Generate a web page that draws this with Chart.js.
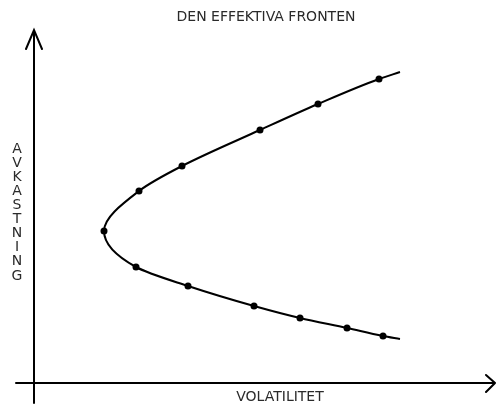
<!DOCTYPE html>
<html>
<head>
<meta charset="utf-8">
<script src="https://cdn.jsdelivr.net/npm/chart.js@4"></script>
<style>
  html, body { margin: 0; padding: 0; background: #fff; }
  #wrap { width: 496px; height: 405px; }
</style>
</head>
<body>
<div id="wrap"><canvas id="frontier"></canvas></div>
<script>
// efficient frontier (top branch -> vertex -> bottom branch)
const volatility = [18.3, 17.25, 14.2, 11.3, 7.4, 5.25, 3.5, 5.1, 7.7, 11.0, 13.3, 15.65, 17.45, 18.3];
const returns    = [15.55, 15.2, 13.95, 12.65, 10.85, 9.6, 7.6, 5.8, 4.85, 3.85, 3.25, 2.75, 2.35, 2.2];

const titleText = 'DEN EFFEKTIVA FRONTEN';
const xLabel = 'VOLATILITET';
const yLabel = 'AVKASTNING';

// axes with arrow heads + texts
const axesPlugin = {
    id: 'axesPlugin',
    afterDraw(chart) {
        const ctx = chart.ctx;
        const x = chart.scales.x, y = chart.scales.y;
        const ox = x.getPixelForValue(0);
        const oy = y.getPixelForValue(0);
        ctx.save();
        ctx.strokeStyle = '#000';
        ctx.lineWidth = 2;
        ctx.lineCap = 'round';
        ctx.beginPath();
        // y axis
        ctx.moveTo(ox, y.getPixelForValue(-1));
        ctx.lineTo(ox, y.getPixelForValue(17.65));
        // arrow up
        ctx.moveTo(ox - 8, y.getPixelForValue(16.7));
        ctx.lineTo(ox, y.getPixelForValue(17.65));
        ctx.lineTo(ox + 8, y.getPixelForValue(16.7));
        // x axis
        ctx.moveTo(x.getPixelForValue(-0.9), oy);
        ctx.lineTo(x.getPixelForValue(23.05), oy);
        // arrow right
        ctx.moveTo(x.getPixelForValue(22.6), oy - 8);
        ctx.lineTo(x.getPixelForValue(23.05), oy);
        ctx.lineTo(x.getPixelForValue(22.6), oy + 9);
        ctx.stroke();

        ctx.fillStyle = '#2a2a2a';
        ctx.font = '14px "DejaVu Sans"';
        ctx.textAlign = 'center';
        ctx.textBaseline = 'middle';
        ctx.fillText(titleText, 266, 17);
        ctx.fillText(xLabel, 280, 397);
        // vertical stacked letters
        yLabel.split('').forEach(function (ch, i) {
            ctx.fillText(ch, 17, 149 + i * 14.1);
        });
        ctx.restore();
    }
};

const ctx = document.getElementById('frontier');
const last = volatility.length - 1;

new Chart(ctx, {
    type: 'scatter',
    data: {
        datasets: [{
            data: volatility.map((v, i) => ({ x: v, y: returns[i] })),
            showLine: true,
            cubicInterpolationMode: 'monotone',
            borderColor: '#000',
            borderWidth: 2,
            backgroundColor: '#000',
            pointRadius: c => (c.dataIndex === 0 || c.dataIndex === last) ? 0 : 3.5,
            pointBorderWidth: 0
        }]
    },
    options: {
        indexAxis: 'y',
        responsive: true,
        maintainAspectRatio: false,
        animation: false,
        layout: { padding: 0 },
        plugins: {
            legend: { display: false },
            tooltip: { enabled: false }
        },
        scales: {
            x: { type: 'linear', display: false, min: -1.7, max: 23.1 },
            y: { type: 'linear', display: false, min: -1.1, max: 19.15 }
        }
    },
    plugins: [axesPlugin]
});
</script>
</body>
</html>
